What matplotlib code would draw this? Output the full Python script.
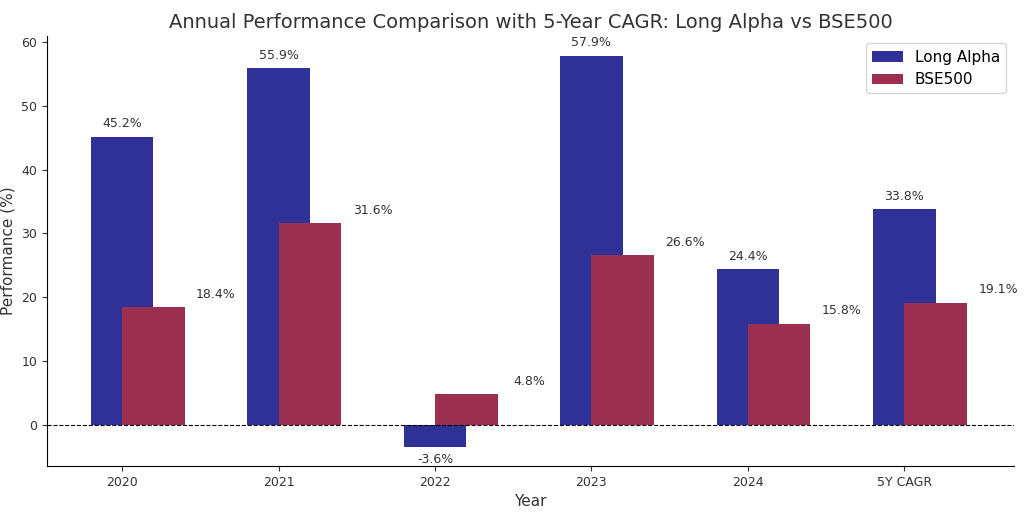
import numpy as np
import matplotlib.pyplot as plt

years = ['2020', '2021', '2022', '2023', '2024', '5Y CAGR']
long_alpha = [45.2, 55.9, -3.6, 57.9, 24.4, 33.8]
bse500 = [18.4, 31.6, 4.8, 26.6, 15.8, 19.1]

fig, ax = plt.subplots(figsize=(10.24, 5.12), dpi=100)
x = np.arange(len(years))
w = 0.4
ax.bar(x, long_alpha, w, color='#2f3196', label='Long Alpha')
ax.bar(x + 0.2, bse500, w, color='#9b2f4f', label='BSE500')

for xi, v in zip(x, long_alpha):
    if v >= 0:
        ax.text(xi, v + 1, f'{v}%', ha='center', va='bottom', fontsize=9, color='#333333')
    else:
        ax.text(xi, v - 0.8, f'{v}%', ha='center', va='top', fontsize=9, color='#333333')
for xi, v in zip(x, bse500):
    ax.text(xi + 0.6, v + 1, f'{v}%', ha='center', va='bottom', fontsize=9, color='#333333')

ax.axhline(0, color='black', linestyle='--', linewidth=0.8)
ax.set_xticks(x)
ax.set_xticklabels(years, fontsize=9)
ax.set_xlim(-0.48, 5.7)
ax.set_ylim(-6.5, 61)
ax.set_xlabel('Year', fontsize=11, color='#333333')
ax.set_ylabel('Performance (%)', fontsize=11, color='#333333')
ax.set_title('Annual Performance Comparison with 5-Year CAGR: Long Alpha vs BSE500', fontsize=14, color='#333333')
ax.spines['top'].set_visible(False)
ax.spines['right'].set_visible(False)
ax.tick_params(labelsize=9, colors='#333333')
ax.legend(loc='upper right', fontsize=11)
plt.subplots_adjust(left=0.046, right=0.99, top=0.93, bottom=0.09)
plt.savefig('out.png', dpi=100)
